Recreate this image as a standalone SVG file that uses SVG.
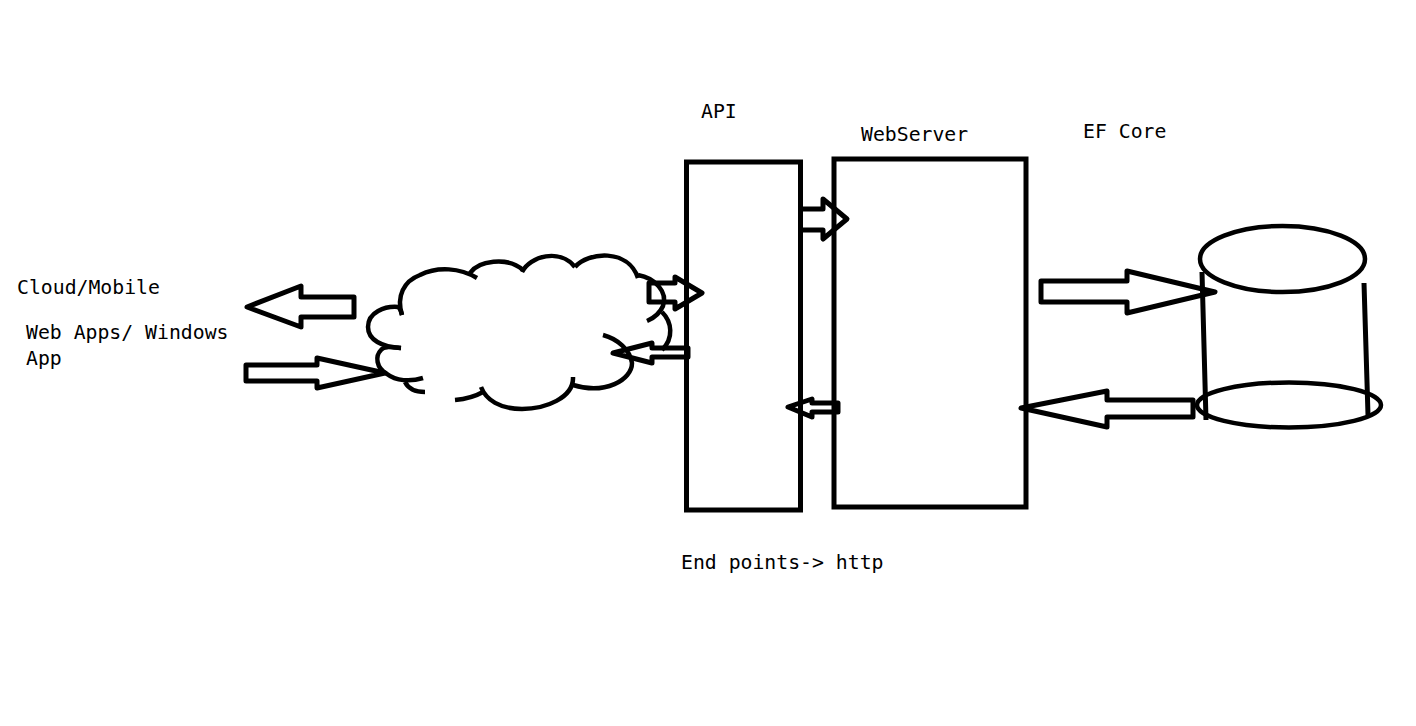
<svg xmlns="http://www.w3.org/2000/svg" width="1416" height="726" viewBox="0 0 1416 726">
<style>
.s{fill:none;stroke:#000;stroke-width:5;stroke-linejoin:miter}
.a{fill:none;stroke:#000;stroke-width:5;stroke-linejoin:round;stroke-linecap:butt}
.c{fill:none;stroke:#000;stroke-width:4.500;stroke-linejoin:round;stroke-linecap:butt}
text{font-family:"DejaVu Sans Mono","Liberation Mono",monospace;font-size:19.8px;fill:#000}
</style>
<rect width="1416" height="726" fill="#fff"/>
<g id="labels">
<text x="17" y="294">Cloud/Mobile</text>
<text x="26" y="339">Web Apps/ Windows</text>
<text x="26" y="365">App</text>
<text x="701" y="118">API</text>
<text x="861" y="141">WebServer</text>
<text x="1083" y="138">EF Core</text>
<text x="681" y="569">End points-&gt; http</text>
</g>
<g id="cloud">
<path class="c" d="M402 315C396 296 404 281 420 275C438 266 460 268 477 278"/>
<path class="c" d="M470 273C478 261 507 256 523 270"/>
<path class="c" d="M522 272C530 256 560 248 575 267"/>
<path class="c" d="M575 267C588 252 628 248 638 278"/>
<path class="c" d="M638 275C655 278 668 292 663 306C660 313 654 318 647 321"/>
<path class="c" d="M662 312C672 322 674 338 662 350"/>
<path class="c" d="M603 335C618 339 630 350 632 363C632 380 605 395 573 385"/>
<path class="c" d="M573 377C574 398 545 409 522 409C500 409 486 400 481 387"/>
<path class="c" d="M483 392C476 396 466 399 455 400"/>
<path class="c" d="M402 315C401 311 400 308 398 307C385 306 368 312 368 327C368 340 382 347 401 348"/>
<path class="c" d="M401 348C390 347 384 346 381 350C375 356 376 368 387 374C396 381 410 382 423 378"/>
<path class="c" d="M405 382C408 388 414 392 425 392"/>
</g>
<g id="api"><rect class="s" x="686.500" y="162" width="114" height="348"/></g>
<g id="webserver"><rect class="s" x="834" y="159" width="192" height="348"/></g>
<g id="database">
<ellipse class="c" cx="1282.500" cy="259" rx="82.500" ry="33"/>
<ellipse class="c" cx="1289" cy="405" rx="92" ry="22.500"/>
<path class="a" d="M1202 272L1206 420M1364 283L1368 415"/>
</g>
<g id="connectors">
<path class="a" d="M247 307L301 286V297H354V317H301V327Z"/>
<path class="a" d="M246 365H317V358L385 373L317 388V381H246Z"/>
<path class="a" d="M649 283H675V277L702 293L675 309V302H649Z"/>
<path class="a" d="M613 353L652 343V348H688V357H652V363Z"/>
<path class="a" d="M802 209H823V199L847 219L823 239V230H802"/>
<path class="a" d="M788 407L812 399V403H838V412H812V417Z"/>
<path class="a" d="M1041 281H1127V271L1215 292L1127 313V302H1041Z"/>
<path class="a" d="M1021 408L1107 391V400H1193V417H1107V427Z"/>
</g>
</svg>
